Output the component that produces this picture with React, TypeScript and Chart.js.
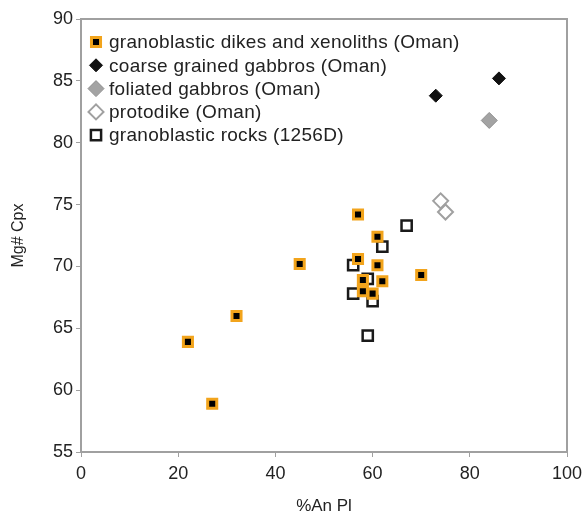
import React, { useEffect, useRef } from 'react';
import { Chart, registerables } from 'chart.js';

Chart.register(...registerables);

// ---- data ----
const xTickValues = [0, 20, 40, 60, 80, 100];
const yTickValues = [55, 60, 65, 70, 75, 80, 85, 90];

const seriesNames = [
  'granoblastic dikes and xenoliths (Oman)',
  'coarse grained gabbros (Oman)',
  'foliated gabbros (Oman)',
  'protodike (Oman)',
  'granoblastic rocks (1256D)',
];

const granoDikesAn = [22, 27, 32, 45, 57, 57, 61, 61, 70, 58, 62, 58, 60];
const granoDikesMg = [63.9, 58.9, 66.0, 70.2, 74.2, 70.6, 72.4, 70.1, 69.3, 68.9, 68.8, 68.0, 67.8];

const coarseAn = [86, 73];
const coarseMg = [85.2, 83.8];

const foliatedAn = [84];
const foliatedMg = [81.8];

const protodikeAn = [74, 75];
const protodikeMg = [75.3, 74.4];

const rocks1256An = [67, 62, 56, 59, 56, 60, 59];
const rocks1256Mg = [73.3, 71.6, 70.1, 69.0, 67.8, 67.2, 64.4];

const FONT = '"Liberation Sans", Arial, Helvetica, sans-serif';
const TEXT = '#222222';
const AXIS = '#A0A0A0';

const pts = (xs: number[], ys: number[]) => xs.map((x, i) => ({ x, y: ys[i] }));

function drawMarker(ctx: CanvasRenderingContext2D, ds: any, x: number, y: number) {
  const r = ds.pointRadius as number;
  ctx.beginPath();
  if (ds.pointStyle === 'rect') {
    const s = r * Math.SQRT1_2;
    ctx.rect(x - s, y - s, 2 * s, 2 * s);
  } else {
    ctx.moveTo(x - r, y);
    ctx.lineTo(x, y - r);
    ctx.lineTo(x + r, y);
    ctx.lineTo(x, y + r);
    ctx.closePath();
  }
  ctx.fillStyle = ds.pointBackgroundColor;
  ctx.fill();
  if (ds.pointBorderWidth > 0) {
    ctx.lineWidth = ds.pointBorderWidth;
    ctx.strokeStyle = ds.pointBorderColor;
    ctx.stroke();
  }
}

const frameAndLegend = {
  id: 'frameAndLegend',
  afterDraw(chart: any) {
    const { ctx, chartArea } = chart;
    ctx.save();
    // full frame
    ctx.strokeStyle = AXIS;
    ctx.lineWidth = 2;
    ctx.strokeRect(chartArea.left, chartArea.top, chartArea.right - chartArea.left, chartArea.bottom - chartArea.top);
    // legend inside plot area
    ctx.font = '19px ' + FONT;
    try { (ctx as any).letterSpacing = '0.3px'; } catch (e) {}
    ctx.textBaseline = 'middle';
    ctx.textAlign = 'left';
    chart.data.datasets.forEach((ds: any, i: number) => {
      const cx = chartArea.left + 15;
      const cy = chartArea.top + 23 + i * 23.3;
      drawMarker(ctx, ds, cx, cy);
      ctx.fillStyle = TEXT;
      ctx.fillText(ds.label, chartArea.left + 28, cy + 1);
    });
    ctx.restore();
  },
};

export default function App() {
  const ref = useRef<HTMLCanvasElement | null>(null);

  useEffect(() => {
    document.body.style.margin = '0';
    if (!ref.current) return;
    Chart.defaults.font.family = FONT;

    const chart = new Chart(ref.current, {
      type: 'scatter',
      data: {
        datasets: [
          {
            label: seriesNames[0],
            data: pts(granoDikesAn, granoDikesMg),
            pointStyle: 'rect',
            pointRadius: 6.4,
            pointBackgroundColor: '#000000',
            pointBorderColor: '#F2A41C',
            pointBorderWidth: 3,
          },
          {
            label: seriesNames[1],
            data: pts(coarseAn, coarseMg),
            pointStyle: 'rectRot',
            pointRadius: 6.5,
            pointBackgroundColor: '#111111',
            pointBorderColor: '#111111',
            pointBorderWidth: 1,
          },
          {
            label: seriesNames[2],
            data: pts(foliatedAn, foliatedMg),
            pointStyle: 'rectRot',
            pointRadius: 8,
            pointBackgroundColor: '#A3A3A3',
            pointBorderColor: '#8E8E8E',
            pointBorderWidth: 1,
          },
          {
            label: seriesNames[3],
            data: pts(protodikeAn, protodikeMg),
            pointStyle: 'rectRot',
            pointRadius: 7.5,
            pointBackgroundColor: '#FFFFFF',
            pointBorderColor: '#A0A0A0',
            pointBorderWidth: 2,
          },
          {
            label: seriesNames[4],
            data: pts(rocks1256An, rocks1256Mg),
            pointStyle: 'rect',
            pointRadius: 7.2,
            pointBackgroundColor: '#FFFFFF',
            pointBorderColor: '#1A1A1A',
            pointBorderWidth: 2.5,
          },
        ] as any,
      },
      options: {
        animation: false,
        responsive: false,
        events: [],
        layout: { padding: { left: 0, top: 19, right: 18, bottom: 0 } },
        plugins: {
          legend: { display: false },
          tooltip: { enabled: false },
        },
        scales: {
          x: {
            type: 'linear',
            min: 0,
            max: 100,
            afterBuildTicks: (s: any) => {
              s.ticks = xTickValues.map((v) => ({ value: v }));
            },
            afterFit: (s: any) => {
              s.height = 69;
              s.paddingLeft = 0;
              s.paddingRight = 0;
            },
            ticks: { font: { size: 18 }, color: TEXT, padding: 6, maxRotation: 0 },
            grid: { drawOnChartArea: false, drawTicks: true, tickLength: 5, color: AXIS, lineWidth: 1 },
            border: { color: AXIS, width: 2 },
            title: { display: true, text: '%An Pl', font: { size: 17 }, color: TEXT, padding: { top: 0, bottom: 4 } },
          },
          y: {
            type: 'linear',
            min: 55,
            max: 90,
            afterBuildTicks: (s: any) => {
              s.ticks = yTickValues.map((v) => ({ value: v }));
            },
            afterFit: (s: any) => {
              s.width = 81;
              s.paddingTop = 0;
              s.paddingBottom = 0;
            },
            ticks: { font: { size: 18 }, color: TEXT, padding: 3 },
            grid: { drawOnChartArea: false, drawTicks: true, tickLength: 5, color: AXIS, lineWidth: 1 },
            border: { color: AXIS, width: 2 },
            title: { display: true, text: 'Mg# Cpx', font: { size: 16 }, color: TEXT, padding: { top: 9, bottom: 0 } },
          },
        },
      } as any,
      plugins: [frameAndLegend],
    });
    return () => chart.destroy();
  }, []);

  return (
    <div style={{ width: 585, height: 521 }}>
      <canvas ref={ref} width={585} height={521} />
    </div>
  );
}
